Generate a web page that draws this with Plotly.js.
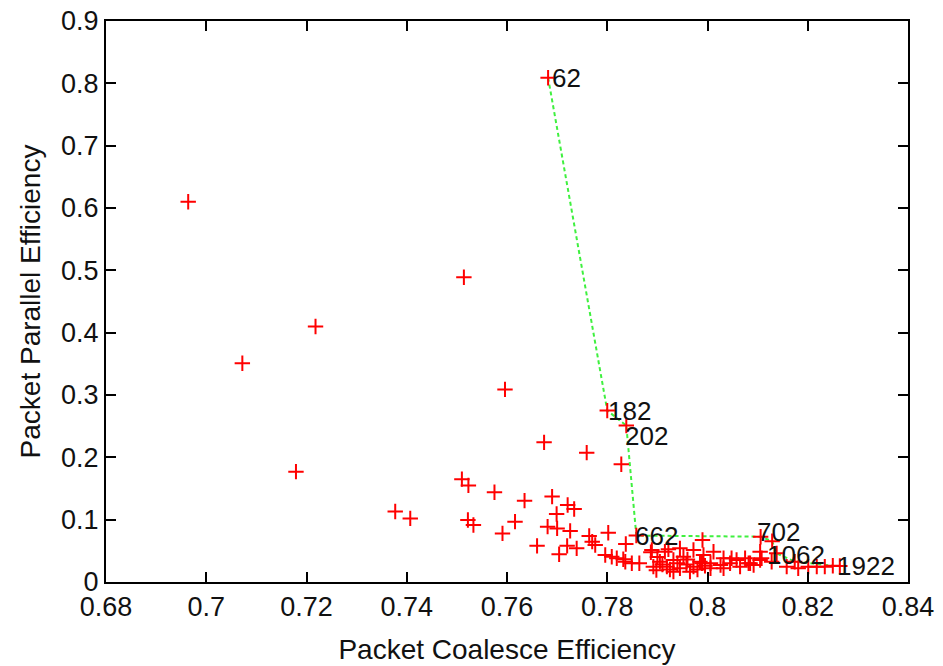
<!DOCTYPE html>
<html>
<head>
<meta charset="utf-8">
<script src="https://cdn.plot.ly/plotly-3.0.1.min.js"></script>
<style>html,body{margin:0;padding:0;background:#fff;}#chart{width:943px;height:666px;}</style>
</head>
<body>
<div id="chart"></div>
<script>
// All configurations (red crosses)
var pointsX = [0.6964,0.7072,0.7179,0.7218,0.7377,0.7407,0.7510,0.7523,0.7514,0.7522,0.7533,
  0.7575,0.7596,0.7591,0.7616,0.7635,0.7674,0.7660,0.7690,0.7699,0.7681,0.7700,
  0.7721,0.7734,0.7726,0.7704,0.7720,0.7739,0.7759,0.7828,0.7682,0.7800,0.7838,
  0.7764,0.7770,0.7776,0.7802,0.7837,0.7796,0.7809,0.7819,0.7832,0.7836,0.7849,0.7864,
  0.7858,0.7887,0.7922,
  0.7889,0.7915,0.7945,0.7972,0.7952,0.7932,0.7905,0.7892,0.7919,0.7945,0.7972,0.7985,0.7932,0.7965,
  0.7898,0.7910,0.7925,0.7940,0.7958,0.7980,0.7995,0.7960,0.7900,
  0.7990,0.8012,0.7992,0.7989,0.8006,0.8026,0.8048,0.8045,0.8075,0.8085,0.8065,0.8105,0.8105,
  0.8032,0.8006,0.8032,0.8058,0.8082,
  0.8092,0.8108,0.8106,0.8129,0.8128,0.8138,0.8158,0.8174,0.8181,0.8201,0.8218,0.8234,0.8250,0.8264];
var pointsY = [0.610,0.351,0.177,0.410,0.113,0.102,0.165,0.155,0.489,0.0995,0.0915,
  0.144,0.309,0.078,0.0968,0.1305,0.224,0.058,0.137,0.109,0.0888,0.086,
  0.1236,0.117,0.082,0.0444,0.058,0.054,0.2075,0.189,0.809,0.275,0.251,
  0.0738,0.0647,0.0594,0.079,0.061,0.0433,0.0406,0.038,0.0364,0.0326,0.030,0.030,
  0.0745,0.0477,0.0525,
  0.0514,0.0486,0.054,0.0514,0.0406,0.0353,0.0326,0.0246,0.0246,0.022,0.0246,0.0326,0.0166,0.0166,
  0.019,0.028,0.020,0.030,0.028,0.020,0.026,0.036,0.040,
  0.0674,0.0486,0.0433,0.030,0.030,0.0273,0.038,0.030,0.038,0.030,0.0246,0.0486,0.0353,
  0.022,0.022,0.038,0.0353,0.030,
  0.0273,0.038,0.0727,0.0655,0.0326,0.046,0.0246,0.0326,0.022,0.0246,0.0246,0.0246,0.026,0.0257];

// Pareto frontier (green dashed line)
var frontX = [0.7682,0.7800,0.7838,0.7858,0.8106,0.8129,0.8138,0.8174,0.8250];
var frontY = [0.809,0.275,0.251,0.0745,0.0727,0.0655,0.046,0.0326,0.026];
var frontLabels = ["62","182","202","662","702","","1062","","1922"];

// Tick labels
var xTickVals = [0.68,0.70,0.72,0.74,0.76,0.78,0.80,0.82,0.84];
var xTickText = ["0.68","0.7","0.72","0.74","0.76","0.78","0.8","0.82","0.84"];
var yTickVals = [0,0.1,0.2,0.3,0.4,0.5,0.6,0.7,0.8,0.9];
var yTickText = ["0","0.1","0.2","0.3","0.4","0.5","0.6","0.7","0.8","0.9"];

var labelShift = {"62":[2,0],"182":[-1,0],"202":[-3,-10],"662":[-3,0],"702":[-6,5],"1062":[-12,-2],"1922":[2,0]};

var FONT = 'Liberation Sans, Arial, sans-serif';

var traces = [
  {x: frontX, y: frontY, type: 'scatter', mode: 'lines',
   line: {color: '#3ff03f', width: 2, dash: '4px,3px'}, hoverinfo: 'skip'},
  {x: pointsX, y: pointsY, type: 'scatter', mode: 'markers',
   marker: {symbol: 'cross-thin-open', size: 11, color: '#ff0000', line: {color: '#ff0000', width: 2}}}
];

var annotations = [];
for (var i = 0; i < frontX.length; i++) {
  var t = frontLabels[i];
  if (!t) continue;
  var s = labelShift[t] || [0,0];
  annotations.push({x: frontX[i], y: frontY[i], xref: 'x', yref: 'y', text: t, showarrow: false,
    xanchor: 'left', yanchor: 'middle', xshift: s[0], yshift: s[1],
    font: {family: FONT, size: 26, color: '#111'}});
}

var axisCommon = {showline: true, linecolor: '#000', linewidth: 2, mirror: 'allticks',
  ticks: 'inside', ticklen: 10, tickwidth: 2, tickcolor: '#000', showgrid: false, zeroline: false,
  tickfont: {family: FONT, size: 27, color: '#111'}};

var layout = {
  width: 943, height: 666,
  margin: {l: 106, r: 35, t: 21, b: 84},
  paper_bgcolor: '#fff', plot_bgcolor: '#fff',
  showlegend: false,
  font: {family: FONT, color: '#111'},
  xaxis: Object.assign({}, axisCommon, {range: [0.68, 0.84], tickmode: 'array', tickvals: xTickVals, ticktext: xTickText,
    title: {text: 'Packet Coalesce Efficiency', font: {family: FONT, size: 28, color: '#111'}, standoff: 18}}),
  yaxis: Object.assign({}, axisCommon, {range: [0, 0.9], tickmode: 'array', tickvals: yTickVals, ticktext: yTickText,
    title: {text: 'Packet Parallel Efficiency', font: {family: FONT, size: 28, color: '#111'}, standoff: 12}}),
  annotations: annotations
};

Plotly.newPlot('chart', traces, layout, {displayModeBar: false, staticPlot: true});
</script>
</body>
</html>
